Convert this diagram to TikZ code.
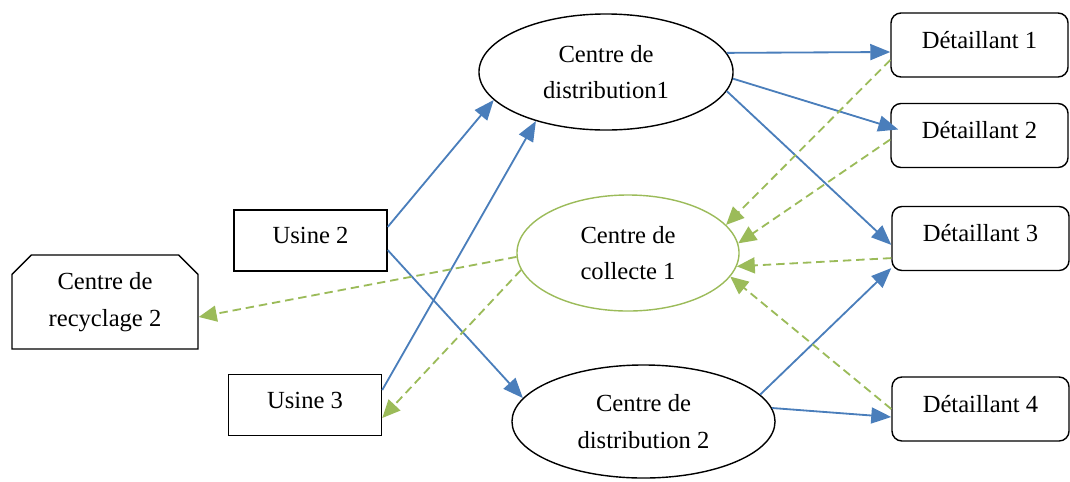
\documentclass[tikz,border=0pt]{standalone}
\usepackage{fontspec}
\setmainfont{Liberation Serif}
\usetikzlibrary{shapes.geometric, shapes.misc, arrows.meta}
\usepackage{xcolor}

\definecolor{flowblue}{HTML}{4A7EBB}
\definecolor{backgreen}{HTML}{9BBB59}

\begin{document}
\begin{tikzpicture}[
    x=0.025cm, y=-0.025cm,
    every node/.style={font=\fontsize{17.5}{26}\selectfont},
    site/.style={draw, line width=1pt, align=center, inner sep=2pt},
    plantbox/.style={site, rectangle, minimum width=3.825cm, minimum height=1.525cm, text height=0.35cm, text depth=0.2cm},
    shopbox/.style={site, rectangle, rounded corners=0.25cm, minimum width=4.425cm, minimum height=1.6cm, text height=0.35cm, text depth=0.2cm},
    depotbox/.style={site, ellipse, minimum width=6.4cm, minimum height=2.85cm},
    collectbox/.style={depotbox, draw=backgreen, minimum width=5.55cm, minimum height=2.9cm},
    recyclebox/.style={site, chamfered rectangle, chamfered rectangle corners={north west, north east}, chamfered rectangle xsep=0.38cm, minimum width=4.65cm, minimum height=2.35cm},
    flow/.style={-{Triangle[length=0.5cm, width=0.4cm]}, flowblue, line width=1.3pt},
    backflow/.style={-{Triangle[length=0.45cm, width=0.4cm]}, backgreen, line width=1.3pt, dash pattern=on 6pt off 3.5pt}
]
\useasboundingbox (0,0) rectangle (1070,481);

% sites
\node[recyclebox] (rec2) at (105,302) {Centre de\\recyclage 2};
\node[plantbox] (u2) at (310.5,240.5) {Usine 2};
\node[plantbox] (u3) at (305,405) {Usine 3};
\node[depotbox, minimum width=6.35cm, minimum height=2.9cm] (cd1) at (606,72) {Centre de\\distribution1};
\node[collectbox] (cc1) at (628,253) {Centre de\\collecte 1};
\node[depotbox, minimum width=6.575cm, minimum height=2.825cm] (cd2) at (643.5,421.5) {Centre de\\distribution 2};
\node[shopbox] (d1) at (979.5,45) {Détaillant 1};
\node[shopbox] (d2) at (979.5,135.5) {Détaillant 2};
\node[shopbox] (d3) at (980.5,238.5) {Détaillant 3};
\node[shopbox] (d4) at (980.5,409) {Détaillant 4};

% forward flows
\draw[flow] ([yshift=0.34cm]u2.east) -- (cd1.194);
\draw[flow] ([yshift=0.375cm]u3.east) -- (cd1.215);
\draw[flow] ([yshift=-0.24cm]u2.east) -- (cd2.169);
\draw[flow] (cd1.9) -- ([yshift=-0.175cm]d1.west);
\draw[flow] (cd1.357) -- ([xshift=0.2cm, yshift=0.15cm]d2.west);
\draw[flow] (cd1.351) -- ([yshift=-0.16cm]d3.west);
\draw[flow] (cd2.13) -- ([yshift=-0.74cm]d3.west);
\draw[flow] (cd2.6) -- ([yshift=-0.2cm]d4.west);

% return flows
\draw[backflow] ([yshift=-0.375cm]d1.west) -- (cc1.16);
\draw[backflow] ([yshift=-0.1cm]d2.west) -- (cc1.5);
\draw[backflow] ([yshift=-0.49cm]d3.west) -- (cc1.353);
\draw[backflow] (d4.west) -- (cc1.347);
\draw[backflow] (cc1.182) -- ([yshift=-0.375cm]rec2.east);
\draw[backflow] (cc1.189) -- ([yshift=-0.325cm]u3.east);

\end{tikzpicture}
\end{document}
